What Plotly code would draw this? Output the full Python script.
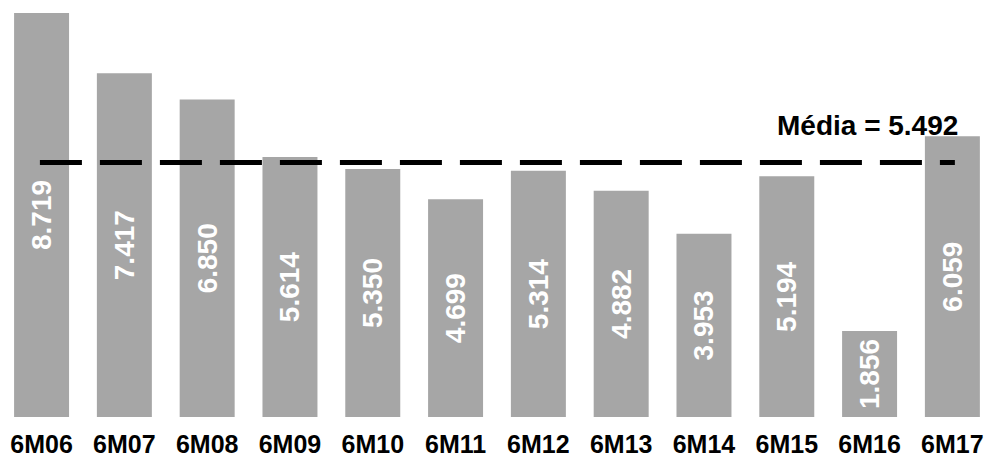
import plotly.graph_objects as go

categories = ["6M06", "6M07", "6M08", "6M09", "6M10", "6M11",
              "6M12", "6M13", "6M14", "6M15", "6M16", "6M17"]
values = [8.719, 7.417, 6.850, 5.614, 5.350, 4.699,
          5.314, 4.882, 3.953, 5.194, 1.856, 6.059]
labels = ["8.719", "7.417", "6.850", "5.614", "5.350", "4.699",
          "5.314", "4.882", "3.953", "5.194", "1.856", "6.059"]
mean_value = 5.492
mean_label = "Média = 5.492"

FONT = "Liberation Sans"

fig = go.Figure()
fig.add_trace(go.Bar(
    x=list(range(len(categories))),
    y=values,
    text=labels,
    textposition="inside",
    insidetextanchor="middle",
    textangle=-90,
    textfont=dict(family=FONT, size=28, color="white", weight="bold"),
    marker=dict(color="#A6A6A6", line=dict(width=0)),
    width=0.664,
    cliponaxis=False,
))

fig.add_shape(type="line", xref="x", yref="y",
              x0=-0.02, x1=11.03, y0=mean_value, y1=mean_value,
              line=dict(color="black", width=5, dash="42px,18px"))

fig.add_annotation(xref="paper", yref="y", x=0.9736, y=6.30,
                   xanchor="right", yanchor="middle", showarrow=False,
                   text="<b>" + mean_label + "</b>",
                   font=dict(family=FONT, size=28, color="black"))

fig.update_layout(
    width=986, height=461,
    margin=dict(l=0, r=0, t=0, b=44),
    paper_bgcolor="white", plot_bgcolor="white",
    showlegend=False,
    uniformtext=dict(mode=False),
    xaxis=dict(
        tickmode="array",
        tickvals=list(range(len(categories))),
        ticktext=categories,
        range=[-0.502, 11.406],
        showgrid=False, zeroline=False, showline=False, ticks="",
        automargin=False,
        ticklabelstandoff=10,
        tickfont=dict(family=FONT, size=25, color="black", weight="bold"),
    ),
    yaxis=dict(range=[0, 9.0], visible=False, showgrid=False, zeroline=False,
               automargin=False),
)

fig.write_html("out.html",
               config={"displayModeBar": False},
               post_script="document.body.style.margin='0';document.body.style.overflow='hidden';")
